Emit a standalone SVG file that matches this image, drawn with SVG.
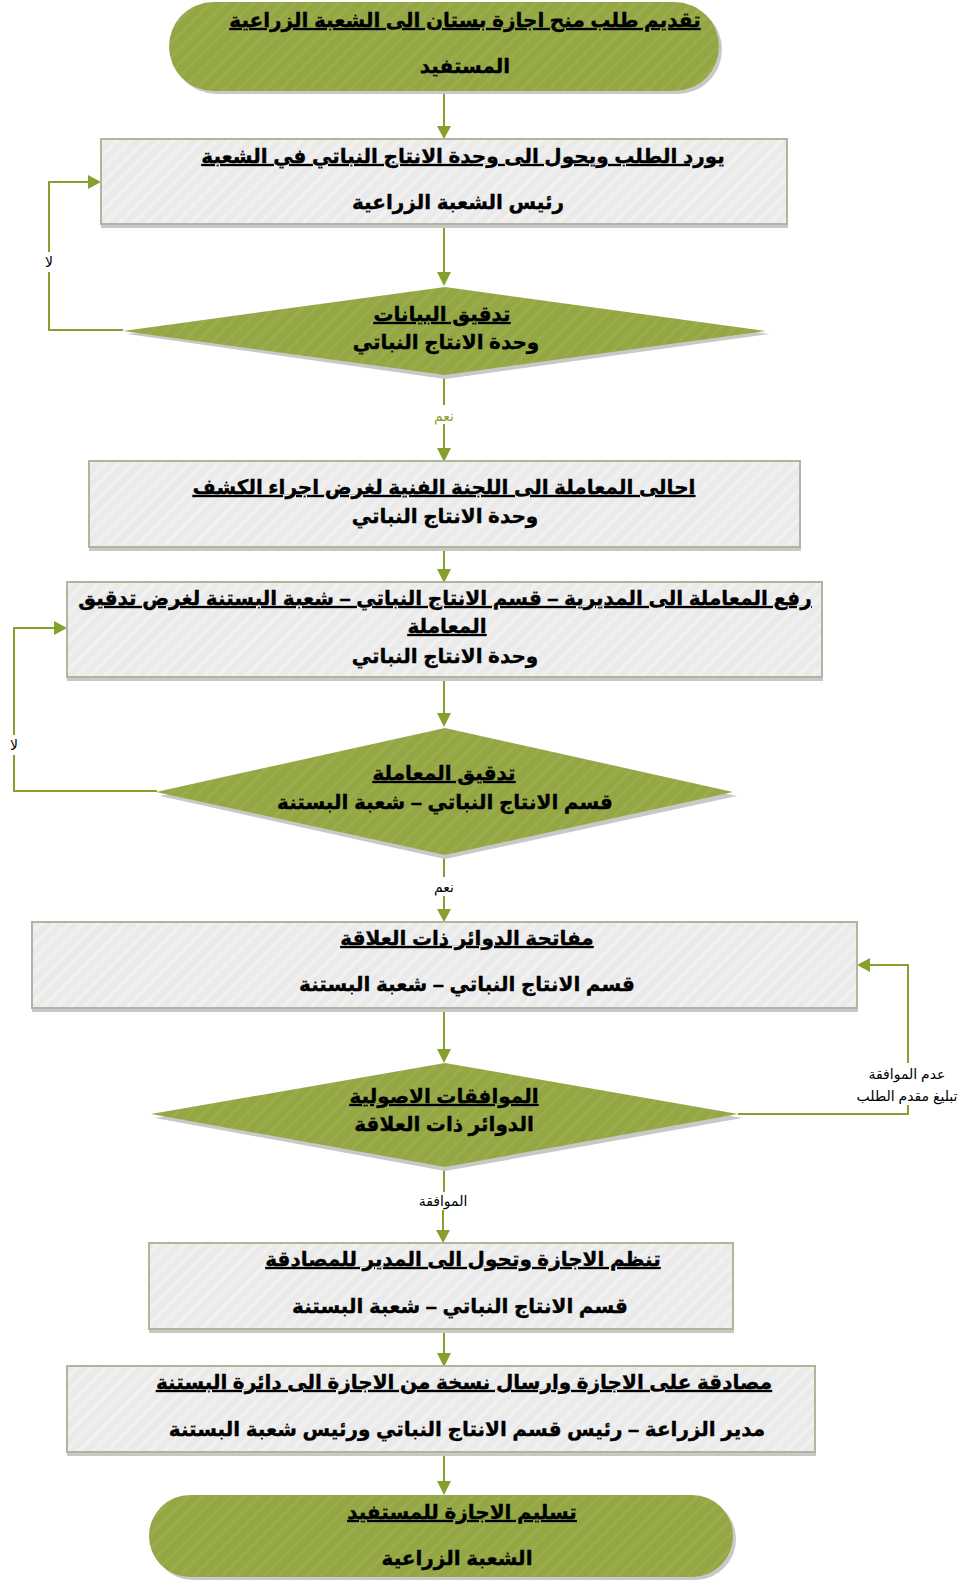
<svg xmlns="http://www.w3.org/2000/svg" width="972" height="1581" viewBox="0 0 972 1581">
  <defs>
    <pattern id="stripeGreen" patternUnits="userSpaceOnUse" width="10" height="10" patternTransform="rotate(45)">
      <rect width="10" height="10" fill="#94A744"/>
      <rect width="3" height="10" fill="#9AAD4C"/>
    </pattern>
    <pattern id="stripeGray" patternUnits="userSpaceOnUse" width="10" height="10" patternTransform="rotate(45)">
      <rect width="10" height="10" fill="#EAEAEA"/>
      <rect width="4" height="10" fill="#F0F0F0"/>
    </pattern>
  </defs>
  <style>
    .term { fill: url(#stripeGreen); }
    .dec { fill: url(#stripeGreen); }
    .box { fill: url(#stripeGray); stroke: #B2B59C; stroke-width: 2; }
    .shadow { fill: #C8C8C8; }
    .t { font-family: "Liberation Sans", "DejaVu Sans", sans-serif; font-weight: bold; font-size: 20px; fill: #000; stroke: #000; stroke-width: 0.35; text-anchor: middle; direction: rtl; }
    .u { text-decoration: underline; }
    .lbl { font-family: "Liberation Sans", "DejaVu Sans", sans-serif; font-size: 14px; fill: #000; text-anchor: middle; direction: rtl; }
    .conn { fill: none; stroke: #86A02F; stroke-width: 2; }
    .ah { fill: #86A02F; }
  </style>

  <rect width="972" height="1581" fill="#FFFFFF"/>

  <!-- connectors -->
  <g id="connectors">
    <path class="conn" d="M444,91 V128"/>
    <path class="ah" d="M437,126 L451,126 L444,139 z"/>

    <path class="conn" d="M444,224 V274"/>
    <path class="ah" d="M437,272 L451,272 L444,286 z"/>

    <!-- no: back to request intake -->
    <path class="conn" d="M123,330 H49 V182 H90"/>
    <path class="ah" d="M88,175 L88,189 L101,182 z"/>
    <rect x="40" y="252" width="18" height="20" fill="#FFFFFF"/>
    <text class="lbl" x="49" y="267">لا</text>

    <path class="conn" d="M444,375 V405"/>
    <path class="conn" d="M444,424 V450"/>
    <path class="ah" d="M437,448 L451,448 L444,462 z"/>
    <text class="lbl" x="444" y="421" style="fill:#86A02F">نعم</text>

    <path class="conn" d="M444,547 V571"/>
    <path class="ah" d="M437,569 L451,569 L444,583 z"/>

    <path class="conn" d="M444,677 V715"/>
    <path class="ah" d="M437,713 L451,713 L444,727 z"/>

    <!-- no: back to transaction upload -->
    <path class="conn" d="M157,791 H14 V628 H56"/>
    <path class="ah" d="M54,621 L54,635 L67,628 z"/>
    <rect x="5" y="735" width="18" height="20" fill="#FFFFFF"/>
    <text class="lbl" x="14" y="750">لا</text>

    <path class="conn" d="M444,855 V877"/>
    <path class="conn" d="M444,896 V911"/>
    <path class="ah" d="M437,909 L451,909 L444,922 z"/>
    <text class="lbl" x="444" y="892">نعم</text>

    <path class="conn" d="M444,1008 V1051"/>
    <path class="ah" d="M437,1049 L451,1049 L444,1063 z"/>

    <!-- rejection: back to departments -->
    <path class="conn" d="M738,1114 H908 V1105"/>
    <path class="conn" d="M908,1063 V965 H868"/>
    <path class="ah" d="M870,958 L870,972 L857,965 z"/>
    <text class="lbl" x="907" y="1079">عدم الموافقة</text>
    <text class="lbl" x="907" y="1101">تبليغ مقدم الطلب</text>

    <path class="conn" d="M444,1167 V1192"/>
    <path class="conn" d="M443,1210 V1232"/>
    <path class="ah" d="M436,1230 L450,1230 L443,1243 z"/>
    <text class="lbl" x="443" y="1206">الموافقة</text>

    <path class="conn" d="M444,1330 V1355"/>
    <path class="ah" d="M437,1353 L451,1353 L444,1367 z"/>

    <path class="conn" d="M444,1453 V1483"/>
    <path class="ah" d="M437,1481 L451,1481 L444,1495 z"/>
  </g>

  <!-- start terminal -->
  <g id="start">
    <rect class="shadow" x="172" y="5" width="550" height="89" rx="44.5"/>
    <rect class="term" x="169" y="2" width="550" height="89" rx="44.5"/>
    <text class="t u" x="465" y="27">تقديم طلب منح اجازة بستان الى الشعبة الزراعية</text>
    <text class="t" x="465" y="73">المستفيد</text>
  </g>

  <g id="intake">
    <rect class="shadow" x="101" y="224" width="687" height="4"/>
    <rect class="box" x="101" y="139" width="686" height="85"/>
    <text class="t u" x="463" y="163">يورد الطلب ويحول الى وحدة الانتاج النباتي في الشعبة</text>
    <text class="t" x="458" y="209">رئيس الشعبة الزراعية</text>
  </g>

  <g id="check-data">
    <polygon class="shadow" points="445,291 770,334 445,379 127,334"/>
    <polygon class="dec" points="445,287 766,331 445,375 123,331"/>
    <text class="t u" x="442" y="321">تدقيق البيانات</text>
    <text class="t" x="446" y="349">وحدة الانتاج النباتي</text>
  </g>

  <g id="committee">
    <rect class="shadow" x="89" y="547" width="712" height="4"/>
    <rect class="box" x="89" y="461" width="711" height="86"/>
    <text class="t u" x="444" y="494">احالى المعاملة الى اللجنة الفنية لغرض اجراء الكشف</text>
    <text class="t" x="445" y="523">وحدة الانتاج النباتي</text>
  </g>

  <g id="directorate">
    <rect class="shadow" x="67" y="677" width="756" height="4"/>
    <rect class="box" x="67" y="582" width="755" height="95"/>
    <text class="t u" x="445" y="605">رفع المعاملة الى المديرية – قسم الانتاج النباتي – شعبة البستنة لغرض تدقيق </text>
    <text class="t u" x="447" y="633">المعاملة</text>
    <text class="t" x="445" y="663">وحدة الانتاج النباتي</text>
  </g>

  <g id="check-transaction">
    <polygon class="shadow" points="445,732 737,796 445,859 160,796"/>
    <polygon class="dec" points="445,728 733,792 445,855 156,792"/>
    <text class="t u" x="444" y="780">تدقيق المعاملة</text>
    <text class="t" x="445" y="809">قسم الانتاج النباتي – شعبة البستنة</text>
  </g>

  <g id="departments">
    <rect class="shadow" x="32" y="1008" width="826" height="4"/>
    <rect class="box" x="32" y="922" width="825" height="86"/>
    <text class="t u" x="467" y="945">مفاتحة الدوائر ذات العلاقة</text>
    <text class="t" x="467" y="991">قسم الانتاج النباتي – شعبة البستنة</text>
  </g>

  <g id="approvals">
    <polygon class="shadow" points="445,1067 742,1118 445,1171 155,1118"/>
    <polygon class="dec" points="445,1063 738,1114 445,1167 151,1114"/>
    <text class="t u" x="444" y="1103">الموافقات الاصولية</text>
    <text class="t" x="444" y="1131">الدوائر ذات العلاقة</text>
  </g>

  <g id="license">
    <rect class="shadow" x="149" y="1329" width="585" height="4"/>
    <rect class="box" x="149" y="1243" width="584" height="86"/>
    <text class="t u" x="463" y="1266">تنظم الاجازة وتحول الى المدير للمصادقة</text>
    <text class="t" x="460" y="1313">قسم الانتاج النباتي – شعبة البستنة</text>
  </g>

  <g id="ratify">
    <rect class="shadow" x="67" y="1452" width="749" height="4"/>
    <rect class="box" x="67" y="1366" width="748" height="86"/>
    <text class="t u" x="464" y="1389">مصادقة على الاجازة وارسال نسخة من الاجازة الى دائرة البستنة</text>
    <text class="t" x="467" y="1436">مدير الزراعة – رئيس قسم الانتاج النباتي ورئيس شعبة البستنة</text>
  </g>

  <!-- end terminal -->
  <g id="finish">
    <rect class="shadow" x="152" y="1498" width="584" height="82" rx="41"/>
    <rect class="term" x="149" y="1495" width="584" height="82" rx="41"/>
    <text class="t u" x="462" y="1519">تسليم الاجازة للمستفيد</text>
    <text class="t" x="457" y="1565">الشعبة الزراعية</text>
  </g>
</svg>
